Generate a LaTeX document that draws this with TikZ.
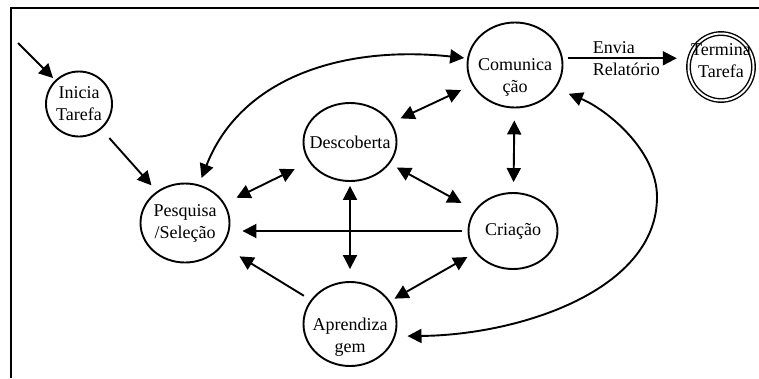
\documentclass[tikz,border=0pt]{standalone}
\usepackage{fontspec}
\setmainfont{Liberation Serif}
\usepackage{tikz}
\usetikzlibrary{arrows.meta}
\usetikzlibrary{shapes.geometric}

\begin{document}
\begin{tikzpicture}[x=1pt, y=-1pt, line width=1.9pt,
    font=\fontsize{18}{22}\selectfont,
    estado/.style={draw, ellipse, align=center, inner sep=-14pt},
    seta/.style={-{Triangle[length=14pt, width=14pt]}},
    setas/.style={{Triangle[length=14pt, width=14pt]}-{Triangle[length=14pt, width=14pt]}}]
      \useasboundingbox (0,0) rectangle (759,378);
      \draw (11,378) -- (11,8) -- (759,8);

      \node[estado, minimum width=66pt, minimum height=65pt] (ini) at (79,104) {Inicia\\Tarefa};
      \node[estado, minimum width=89pt, minimum height=79pt] (pesq) at (185,223) {Pesquisa\\/Seleção};
      \node[estado, minimum width=93pt, minimum height=78pt] (desc) at (350,142) {Descoberta};
      \node[estado, minimum width=95pt, minimum height=85pt] (comun) at (515,65) {\rule{0pt}{36pt}Comunica\\ção};
      \node[estado, minimum width=89pt, minimum height=76pt] (crit) at (513,231) {Criação};
      \node[estado, minimum width=93pt, minimum height=84pt] (aprend) at (350,324) {\rule{0pt}{38pt}Aprendiza\\gem};
      \node[estado, double, double distance=2pt, line width=1.4pt, minimum width=65pt, minimum height=67pt] (term) at (721,67) {Termina\\Tarefa\rule[-12pt]{0pt}{12pt}};

      \coordinate (entrada) at (18,43);
      \draw[seta, shorten >=3pt] (entrada) -- (ini);
      \draw[seta, shorten <=12pt, shorten >=8pt] (ini) -- (pesq);
      \draw[setas, shorten <=13pt, shorten >=16pt] (pesq) -- (desc);
      \draw[setas, shorten <=10pt, shorten >=12pt] (desc) -- (comun);
      \draw[setas, shorten <=12pt, shorten >=10pt] (comun) -- (crit);
      \draw[setas, shorten <=8pt, shorten >=15pt] (desc) -- (crit);
      \draw[setas, shorten <=4pt, shorten >=12pt] (desc) -- (aprend);
      \draw[setas, shorten <=9pt, shorten >=5pt] (crit) -- (aprend);
      \draw[seta, shorten <=6pt, shorten >=12pt] (crit.west) -- (pesq.east |- crit.west);
      \draw[seta, shorten <=8pt, shorten >=20pt] (aprend) -- (pesq);
      \draw[seta, shorten <=5pt, shorten >=11pt] (comun.8) -- (comun.8 -| term.west)
          node[midway, align=left, xshift=1pt] (envio) {Envia\\Relatório};

      \draw[setas, shorten <=7pt, shorten >=3pt] (pesq.70) .. controls (241,77) and (344,45) .. (comun.172);
      \draw[setas, shorten <=12pt, shorten >=14pt] (aprend.-15) .. controls (520,335) and (657,290) .. (657,197)
          .. controls (657,150) and (606,109) .. (comun.-30);
\end{tikzpicture}
\end{document}
